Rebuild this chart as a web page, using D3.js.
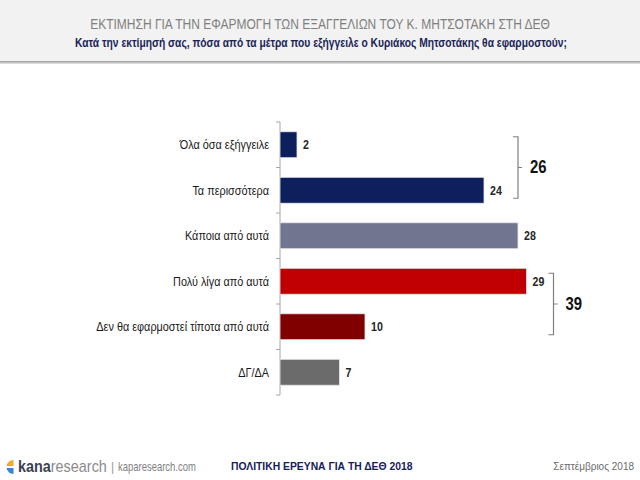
<!DOCTYPE html>
<html>
<head>
<meta charset="utf-8">
<script src="https://cdn.jsdelivr.net/npm/d3@7"></script>
<style>
  html, body { margin: 0; padding: 0; background: #ffffff; }
  svg { display: block; }
  text { font-family: "Liberation Sans", Arial, sans-serif; }
</style>
</head>
<body>
<svg id="chart" width="640" height="480"></svg>
<script>
// ---- Data ----
const categories = [
  "Όλα όσα εξήγγειλε",
  "Τα περισσότερα",
  "Κάποια από αυτά",
  "Πολύ λίγα από αυτά",
  "Δεν θα εφαρμοστεί τίποτα από αυτά",
  "ΔΓ/ΔΑ"
];
const values = [2, 24, 28, 29, 10, 7];
const barColors = ["#0d1f5c", "#0d1f5c", "#727590", "#c00000", "#800000", "#6b6b6b"];
const groupStarts = [0, 3];
const groupEnds = [1, 4];
const groupTotals = [26, 39];

const titleText = "ΕΚΤΙΜΗΣΗ ΓΙΑ ΤΗΝ ΕΦΑΡΜΟΓΗ ΤΩΝ ΕΞΑΓΓΕΛΙΩΝ ΤΟΥ Κ. ΜΗΤΣΟΤΑΚΗ ΣΤΗ ΔΕΘ";
const subtitleText = "Κατά την εκτίμησή σας, πόσα από τα μέτρα που εξήγγειλε ο Κυριάκος Μητσοτάκης θα εφαρμοστούν;";
const footerCenter = "ΠΟΛΙΤΙΚΗ ΕΡΕΥΝΑ ΓΙΑ ΤΗ ΔΕΘ 2018";
const footerRight = "Σεπτέμβριος 2018";
const footerSite = "kaparesearch.com";

// condense text horizontally about its anchor x (emulates a narrow face)
function condense(sel, f) {
  sel.each(function () {
    const ax = +this.getAttribute("x");
    d3.select(this).attr("transform", `translate(${ax},0) scale(${f},1) translate(${-ax},0)`);
  });
  return sel;
}

// ---- Layout ----
const svg = d3.select("#chart");
const W = 640, H = 480;

// header band
svg.append("rect").attr("x", 0).attr("y", 62).attr("width", W).attr("height", 2).attr("fill", "#dcdcdc");
svg.append("rect").attr("x", 0).attr("y", 0).attr("width", W).attr("height", 62).attr("fill", "#f2f2f2");
svg.append("rect").attr("x", 0).attr("y", 61).attr("width", W).attr("height", 1.5).attr("fill", "#a6a6a6");

svg.append("text")
  .attr("x", 320).attr("y", 29).attr("text-anchor", "middle")
  .attr("font-size", 15).attr("fill", "#7f7f7f")
  .text(titleText).call(condense, 0.8);
svg.append("text")
  .attr("x", 321).attr("y", 47).attr("text-anchor", "middle")
  .attr("font-size", 13).attr("font-weight", "bold").attr("fill", "#1a2556")
  .text(subtitleText).call(condense, 0.79);

// scales
const x0 = 280;
const x = d3.scaleLinear().domain([0, 30]).range([x0, x0 + 255]);
const y = d3.scaleBand().domain(categories).range([122, 395]).paddingInner(0.43).paddingOuter(0.215);

// axis
const axG = svg.append("g").attr("transform", `translate(${x0},0)`);
axG.append("line").attr("x1", 0).attr("x2", 0).attr("y1", 122).attr("y2", 395).attr("stroke", "#a6a6a6").attr("stroke-width", 1);
const bounds = d3.range(categories.length + 1).map(i => 122 + i * (395 - 122) / categories.length);
axG.selectAll("line.tk").data(bounds).join("line").attr("class", "tk")
  .attr("x1", -4).attr("x2", 0).attr("y1", d => d).attr("y2", d => d)
  .attr("stroke", "#a6a6a6").attr("stroke-width", 1);

// category labels
svg.selectAll("text.cat").data(categories).join("text")
  .attr("class", "cat")
  .attr("x", 269).attr("y", d => y(d) + y.bandwidth() / 2 + 4.5)
  .attr("text-anchor", "end").attr("font-size", 12.5).attr("fill", "#1a1a1a")
  .text(d => d).call(condense, 0.87);

// bars
svg.selectAll("rect.bar").data(values).join("rect")
  .attr("class", "bar")
  .attr("x", x(0)).attr("y", (d, i) => y(categories[i]))
  .attr("width", d => x(d) - x(0)).attr("height", y.bandwidth())
  .attr("fill", (d, i) => barColors[i])
  .attr("stroke", "#e8e8ee").attr("stroke-width", 0.8);

// value labels
svg.selectAll("text.val").data(values).join("text")
  .attr("class", "val")
  .attr("x", d => x(d) + 6).attr("y", (d, i) => y(categories[i]) + y.bandwidth() / 2 + 4.5)
  .attr("font-size", 12.5).attr("font-weight", "bold").attr("fill", "#262626")
  .text(d => d).call(condense, 0.85);

// brackets
groupTotals.forEach((tot, g) => {
  const s = groupStarts[g], e = groupEnds[g];
  const maxV = d3.max(values.slice(s, e + 1));
  const bx = x(maxV) + (g === 0 ? 34 : 27);
  const yTop = y(categories[s]) + y.bandwidth() / 2 - 8;
  const yBot = y(categories[e]) + y.bandwidth() / 2 + 8;
  const yMid = (yTop + yBot) / 2;
  svg.append("path")
    .attr("d", `M${bx - 5},${yTop} L${bx},${yTop} L${bx},${yBot} L${bx - 5},${yBot} M${bx},${yMid} L${bx + 4},${yMid}`)
    .attr("fill", "none").attr("stroke", "#7f7f7f").attr("stroke-width", 1.2);
  svg.append("text")
    .attr("x", bx + 12).attr("y", yMid + 6)
    .attr("font-size", 17.5).attr("font-weight", "bold").attr("fill", "#111")
    .text(tot).call(condense, 0.85);
});

// footer logo
const lg = svg.append("g").attr("transform", "translate(13,467)");
lg.append("path").attr("d", "M0.5,-1 L0.5,-7 A7,7 0 0 0 -6.5,-1 Z").attr("fill", "#f0a92a");
lg.append("path").attr("d", "M0.5,1 L0.5,7 A7,7 0 0 1 -6.5,1 Z").attr("fill", "#3a86c8");
const brand = svg.append("text").attr("x", 18).attr("y", 472).attr("font-size", 16);
brand.append("tspan").attr("font-weight", "bold").attr("fill", "#3a3f52").text("kana");
brand.append("tspan").attr("fill", "#8a8a8a").text("research");
condense(brand, 0.9);
svg.append("text").attr("x", 111).attr("y", 471)
  .attr("font-size", 12).attr("fill", "#9a9a9a").text("|");
svg.append("text").attr("x", 118).attr("y", 471)
  .attr("font-size", 12).attr("fill", "#7f7f7f").text(footerSite).call(condense, 0.79);

svg.append("text").attr("x", 231).attr("y", 470)
  .attr("font-size", 11.5)
  .attr("font-weight", "bold").attr("fill", "#14205a").text(footerCenter).call(condense, 0.9);
svg.append("text").attr("x", 634).attr("y", 470).attr("text-anchor", "end")
  .attr("font-size", 11.5)
  .attr("fill", "#6b6b6b").text(footerRight).call(condense, 0.87);
</script>
</body>
</html>
